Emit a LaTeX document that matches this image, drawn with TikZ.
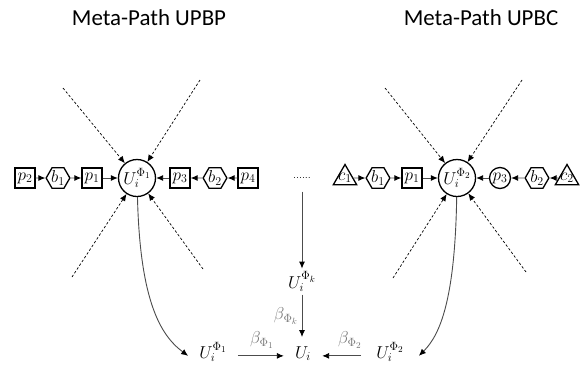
\documentclass[tikz,border=0pt]{standalone}
\usepackage{fontspec}
\setsansfont{Carlito}
\usetikzlibrary{arrows.meta,shapes.geometric}
\definecolor{lc}{gray}{0.3}
\definecolor{bc}{gray}{0.45}
\begin{document}
\begin{tikzpicture}[x=1bp,y=-1bp,
  every node/.style={font=\fontsize{18}{20}\selectfont},
  sq/.style={draw,line width=1.3bp,minimum size=20bp,inner sep=0pt},
  hexa/.style={draw,regular polygon,regular polygon sides=6,line width=1.3bp,minimum size=23bp,inner sep=0pt},
  tria/.style={draw,regular polygon,regular polygon sides=3,line width=1.3bp,minimum size=27bp,inner sep=0pt},
  hub/.style={circle,draw,line width=1.3bp,minimum size=37bp,inner sep=0pt},
  rnd/.style={circle,draw,line width=1.3bp,minimum size=21bp,inner sep=0pt},
  lab/.style={inner xsep=11bp,inner ysep=4bp,anchor=base},
  arr/.style={draw=lc,line width=0.9bp,-{Latex[length=7bp,width=6bp,black]}},
  darr/.style={draw=black,line width=0.7bp,dash pattern=on 2.5bp off 2bp,-{Latex[length=7bp,width=6bp]}},
  wt/.style={text=bc},
  ttl/.style={font=\sffamily\fontsize{23}{27}\selectfont,anchor=base}
]
\useasboundingbox (0,0) rectangle (583,364);

% titles
\node[ttl] (t1) at (149,25) {Meta-Path UPBP};
\node[ttl] (t2) at (481,25) {Meta-Path UPBC};

% left group
\node[sq]   (lp2) at (25,178) {$p_2$};
\node[hexa] (lb1) at (58,178) {$b_1$};
\node[sq]   (lp1) at (92,178) {$p_1$};
\node[hub]  (h1)  at (137,178) {$U_i^{\Phi_1}$};
\node[sq]   (lp3) at (180,178) {$p_3$};
\node[hexa] (lb2) at (215,178) {$b_2$};
\node[sq]   (lp4) at (248,178) {$p_4$};

\draw[arr] (lp2) -- (lb1);
\draw[arr] (lb1) -- (lp1);
\draw[arr] (lp1) -- (h1);
\draw[arr] (lp4) -- (lb2);
\draw[arr] (lb2) -- (lp3);
\draw[arr] (lp3) -- (h1);

\coordinate (a1) at (63,88);
\coordinate (a2) at (200,80);
\coordinate (a3) at (72,277);
\coordinate (a4) at (203,269);
\draw[darr] (a1) -- (h1);
\draw[darr] (a2) -- (h1);
\draw[darr] (a3) -- (h1);
\draw[darr] (a4) -- (h1);

% right group
\node[tria] (rc1) at (345,178) {\smash{\makebox[0pt]{\raisebox{-2bp}{$c_1$}}}};
\node[hexa] (rb1) at (378,178) {$b_1$};
\node[sq]   (rp1) at (412,178) {$p_1$};
\node[hub]  (h2)  at (457,178) {$U_i^{\Phi_2}$};
\node[rnd]  (rp3) at (500,178) {$p_3$};
\node[hexa] (rb2) at (537,178) {$b_2$};
\node[tria] (rc2) at (567,178) {\smash{\makebox[0pt]{\raisebox{-2bp}{$c_2$}}}};

\draw[arr] (rc1) -- (rb1);
\draw[arr] (rb1) -- (rp1);
\draw[arr] (rp1) -- (h2);
\draw[arr] (rc2) -- (rb2);
\draw[arr] (rb2) -- (rp3);
\draw[arr] (rp3) -- (h2);

\coordinate (b1) at (385,88);
\coordinate (b2) at (522,80);
\coordinate (b3) at (393,278);
\coordinate (b4) at (526,272);
\draw[darr] (b1) -- (h2);
\draw[darr] (b2) -- (h2);
\draw[darr] (b3) -- (h2);
\draw[darr] (b4) -- (h2);

% middle
\node[inner sep=0pt,font=\fontsize{11}{12}\selectfont] (dots) at (302,178) {......};
\node[lab,inner ysep=3bp] (uk) at (302,288) {$U_i^{\Phi_k}$};
\node[lab,inner ysep=9bp] (ui) at (303,358) {$U_i$};
\node[lab] (u1) at (213,358) {$U_i^{\Phi_1}$};
\node[lab,inner xsep=15bp] (u2) at (390,358) {$U_i^{\Phi_2}$};

\draw[arr,shorten <=13bp] (dots) -- (dots |- uk.north);
\draw[arr] (uk.south) -- (uk.south |- ui.north);
\draw[arr] (u1.mid east) -- (ui.mid west);
\draw[arr] (u2.mid west) -- (ui.mid east);

\node[wt] (bk) at (286,316) {$\beta_{\Phi_k}$};
\node[wt] (bb1) at (262,340) {$\beta_{\Phi_1}$};
\node[wt] (bb2) at (350,340) {$\beta_{\Phi_2}$};

\draw[arr] (h1) .. controls (140,300) and (160,335) .. (u1.mid west);
\draw[arr] (h2) .. controls (455,300) and (440,335) .. (u2.mid east);
\end{tikzpicture}
\end{document}
